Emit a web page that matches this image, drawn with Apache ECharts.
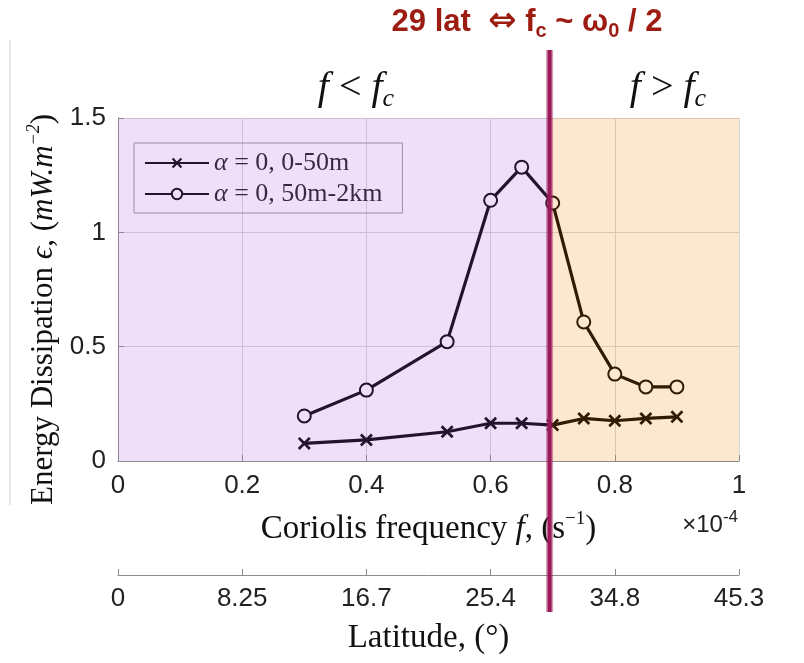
<!DOCTYPE html>
<html>
<head>
<meta charset="utf-8">
<script src="https://cdn.jsdelivr.net/npm/echarts@6/dist/echarts.min.js"></script>
<style>
  html, body { margin: 0; padding: 0; background: #fff; }
  #main { width: 804px; height: 663px; }
</style>
</head>
<body>
<div id="main"></div>
<script>
// Coriolis frequency (x 1e-4 s^-1) for each run
const freq = [0.3, 0.4, 0.53, 0.6, 0.65, 0.7, 0.75, 0.8, 0.85, 0.9];
// energy dissipation, mW/m^2
const surface = [0.077, 0.092, 0.128, 0.165, 0.165, 0.157, 0.186, 0.176, 0.186, 0.193];
const deep = [0.197, 0.31, 0.522, 1.14, 1.285, 1.128, 0.608, 0.38, 0.324, 0.324];
// latitude labels matching the frequency ticks 0, 0.2, ... 1
const latLabels = ['0', '8.25', '16.7', '25.4', '34.8', '45.3'];
const seriesNames = ['α = 0, 0-50m', 'α = 0, 50m-2km'];
const fc = 0.695; // critical frequency, 29 lat

const serif = 'Liberation Serif';
const sans = 'Liberation Sans';
const crossPath = 'path://M1.5,0L5,3.5L8.5,0L10,1.5L6.5,5L10,8.5L8.5,10L5,6.5L1.5,10L0,8.5L3.5,5L0,1.5Z';

let chartDom = document.getElementById('main');
let myChart = echarts.init(chartDom);

const axisGray = '#8c8c8c';

let option = {
    animation: false,
    grid: [
        { left: 118, right: 65, top: 118, bottom: 202 },
        { left: 118, right: 65, top: 575, height: 0 }
    ],
    xAxis: [
        {
            gridIndex: 0, type: 'value', min: 0, max: 1, interval: 0.2,
            axisLine: { lineStyle: { color: axisGray } },
            axisTick: { inside: true, length: 6, lineStyle: { color: axisGray } },
            axisLabel: { color: '#222', fontFamily: sans, fontSize: 26, margin: 12 },
            splitLine: { show: true, lineStyle: { color: '#d6d6d6' } },
            name: 'Coriolis frequency {i|f}, (s{sup|−1})',
            nameLocation: 'middle', nameGap: 49,
            nameTextStyle: {
                fontFamily: serif, fontSize: 33, color: '#111',
                rich: {
                    i: { fontFamily: serif, fontSize: 33, fontStyle: 'italic', color: '#111', lineHeight: 38 },
                    sup: { fontFamily: serif, fontSize: 19, color: '#111', verticalAlign: 'top', lineHeight: 38 }
                }
            }
        },
        {
            gridIndex: 1, type: 'value', min: 0, max: 1, interval: 0.2,
            axisLine: { lineStyle: { color: axisGray } },
            axisTick: { inside: true, length: 6, lineStyle: { color: axisGray } },
            axisLabel: {
                color: '#222', fontFamily: sans, fontSize: 26, margin: 11,
                formatter: v => latLabels[Math.round(v / 0.2)]
            },
            splitLine: { show: false },
            name: 'Latitude, (°)',
            nameLocation: 'middle', nameGap: 47,
            nameTextStyle: { fontFamily: serif, fontSize: 33, color: '#111' }
        }
    ],
    yAxis: [
        {
            gridIndex: 0, type: 'value', min: 0, max: 1.5, interval: 0.5,
            axisLine: { show: true, lineStyle: { color: axisGray } },
            axisTick: { show: true, inside: true, length: 6, lineStyle: { color: axisGray } },
            axisLabel: { color: '#222', fontFamily: sans, fontSize: 26, margin: 12 },
            splitLine: { show: true, lineStyle: { color: '#d6d6d6' } },
            name: 'Energy Dissipation {i|ϵ}, ({i|mW.m}{sup|−2})',
            nameLocation: 'middle', nameGap: 56, nameRotate: 90,
            nameTextStyle: {
                fontFamily: serif, fontSize: 31, color: '#111',
                padding: [0, 40, 0, 0],
                rich: {
                    i: { fontFamily: serif, fontSize: 31, fontStyle: 'italic', color: '#111', lineHeight: 36 },
                    sup: { fontFamily: serif, fontSize: 18, fontStyle: 'italic', color: '#111', verticalAlign: 'top', lineHeight: 36 }
                }
            }
        },
        { gridIndex: 1, type: 'value', show: false }
    ],
    legend: {
        left: 134, top: 143, orient: 'vertical',
        borderColor: '#999', borderWidth: 1, padding: [7, 20, 6, 10],
        itemWidth: 64, itemHeight: 13, itemGap: 5,
        formatter: n => '{i|α}' + n.slice(1),
        textStyle: {
            fontFamily: serif, fontSize: 26, color: '#1a1a1a',
            rich: { i: { fontFamily: serif, fontSize: 26, fontStyle: 'italic', color: '#1a1a1a' } }
        },
        data: seriesNames
    },
    series: [
        {
            name: seriesNames[0], type: 'line',
            data: freq.map((f, i) => [f, surface[i]]),
            symbol: crossPath, symbolSize: 13,
            lineStyle: { color: '#000', width: 3.2 },
            itemStyle: { color: '#000' }
        },
        {
            name: seriesNames[1], type: 'line',
            data: freq.map((f, i) => [f, deep[i]]),
            symbol: 'emptyCircle', symbolSize: 13,
            lineStyle: { color: '#000', width: 3.2 },
            itemStyle: { color: '#000', borderWidth: 2.8 }
        }
    ]
};

option && myChart.setOption(option);

// shaded regions and the f_c marker, placed from the axis scales
const p0 = myChart.convertToPixel({ xAxisIndex: 0, yAxisIndex: 0 }, [0, 1.5]);
const pc = myChart.convertToPixel({ xAxisIndex: 0, yAxisIndex: 0 }, [fc, 0]);
const p1 = myChart.convertToPixel({ xAxisIndex: 0, yAxisIndex: 0 }, [1, 0]);

const mathRich = {
    i: { fontFamily: serif, fontSize: 40, fontStyle: 'italic', fill: '#111', lineHeight: 48 },
    n: { fontFamily: serif, fontSize: 40, fill: '#111', lineHeight: 48 },
    s: { fontFamily: serif, fontSize: 26, fontStyle: 'italic', fill: '#111', verticalAlign: 'bottom' }
};
const titleRed = '#9c1c12';
const titleRich = {
    a: { fontFamily: sans, fontSize: 31, fontWeight: 'bold', fill: titleRed, lineHeight: 38 },
    arr: { fontFamily: 'DejaVu Sans', fontSize: 34, fontWeight: 'bold', fill: titleRed, lineHeight: 38 },
    s: { fontFamily: sans, fontSize: 20, fontWeight: 'bold', fill: titleRed, verticalAlign: 'bottom' }
};

myChart.setOption({
    graphic: [
        {
            type: 'rect', z: 10, silent: true,
            shape: { x: p0[0], y: p0[1], width: pc[0] - p0[0], height: pc[1] - p0[1] },
            style: { fill: 'rgba(165,100,215,0.2)' }
        },
        {
            type: 'rect', z: 10, silent: true,
            shape: { x: pc[0], y: p0[1], width: p1[0] - pc[0], height: pc[1] - p0[1] },
            style: { fill: 'rgba(240,140,20,0.2)' }
        },
        {
            type: 'line', z: 12, silent: true,
            shape: { x1: pc[0], y1: 50, x2: pc[0], y2: 612 },
            style: { stroke: 'rgba(158,26,92,0.45)', lineWidth: 7 }
        },
        {
            type: 'line', z: 13, silent: true,
            shape: { x1: pc[0], y1: 50, x2: pc[0], y2: 612 },
            style: { stroke: '#9b1a5a', lineWidth: 4 }
        },
        {
            type: 'line', z: 1, silent: true,
            shape: { x1: 10, y1: 40, x2: 10, y2: 505 },
            style: { stroke: '#d0d0d0', lineWidth: 1 }
        },
        {
            type: 'text', z: 14, x: 527, y: 22,
            style: {
                text: '{a|29 lat  }{arr|⇔}{a| f}{s|c}{a| ~ ω}{s|0}{a| / 2}',
                rich: titleRich, align: 'center', verticalAlign: 'middle'
            }
        },
        {
            type: 'text', z: 14, x: 356, y: 88,
            style: {
                text: '{i|f}{n| < }{i|f}{s|c}',
                rich: mathRich, align: 'center', verticalAlign: 'middle'
            }
        },
        {
            type: 'text', z: 14, x: 668, y: 88,
            style: {
                text: '{i|f}{n| > }{i|f}{s|c}',
                rich: mathRich, align: 'center', verticalAlign: 'middle'
            }
        },
        {
            type: 'text', z: 14, x: 738, y: 525,
            style: {
                text: '{a|×10}{sup|-4}',
                rich: {
                    a: { fontFamily: sans, fontSize: 24, fill: '#222', lineHeight: 32 },
                    sup: { fontFamily: sans, fontSize: 17, fill: '#222', verticalAlign: 'top' }
                },
                align: 'right', verticalAlign: 'middle'
            }
        }
    ]
});
</script>
</body>
</html>
